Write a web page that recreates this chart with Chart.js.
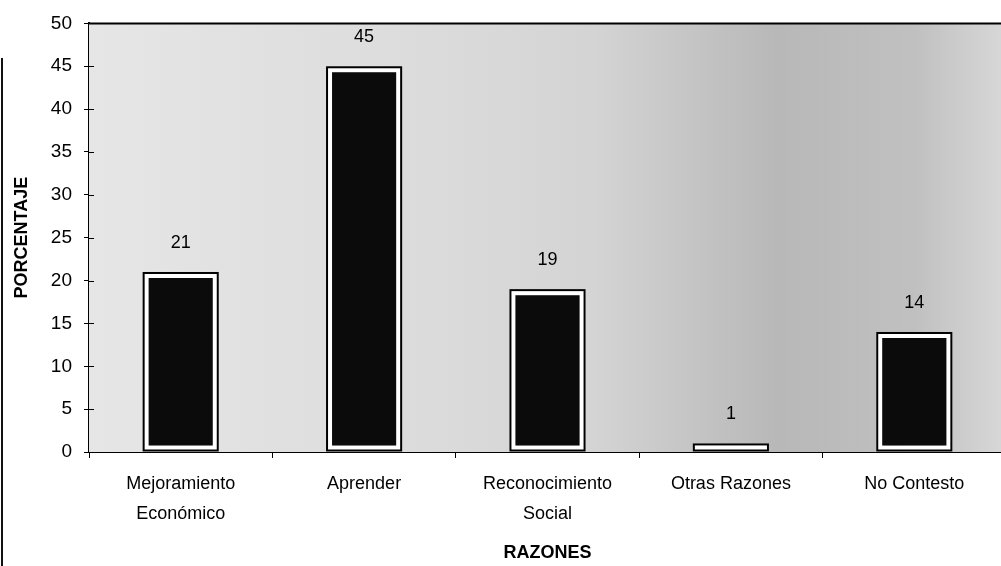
<!DOCTYPE html>
<html>
<head>
<meta charset="utf-8">
<script src="https://cdn.jsdelivr.net/npm/chart.js@4"></script>
<style>
html,body{margin:0;padding:0;background:#fff;overflow:hidden;}
#wrap{width:1001px;height:566px;overflow:hidden;}
</style>
</head>
<body>
<div id="wrap"><canvas id="chart" width="1006" height="566"></canvas></div>
<script>
// data
const razones = [['Mejoramiento','Económico'],'Aprender',['Reconocimiento','Social'],'Otras Razones','No Contesto'];
const porcentaje = [21,45,19,1,14];
const yTitle = 'PORCENTAJE';
const xTitle = 'RAZONES';

const FONT = 'Arial, "Liberation Sans", sans-serif';

// greyish scan background behind the bars
const bgPlugin = {
id:'bg',
beforeDatasetsDraw(chart){
const {ctx, chartArea:a} = chart;
const g = ctx.createLinearGradient(a.left,0,a.right,0);
g.addColorStop(0,'#e6e6e6');
g.addColorStop(0.35,'#dcdcdc');
g.addColorStop(0.55,'#d4d4d4');
g.addColorStop(0.75,'#b8b8b8');
g.addColorStop(0.9,'#c0c0c0');
g.addColorStop(1,'#d8d8d8');
ctx.save();
ctx.fillStyle = g;
ctx.fillRect(a.left,a.top,a.right-a.left,a.bottom-a.top);
ctx.restore();
},
afterDraw(chart){
// scanned page edge on the left
const ctx = chart.ctx;
ctx.save();
ctx.strokeStyle='#111';
ctx.lineWidth=2;
ctx.beginPath();
ctx.moveTo(2,58);
ctx.lineTo(2,566);
ctx.stroke();
ctx.restore();
}
};

// outer black frame, value labels, top line and inner half of y ticks
const decoPlugin = {
id:'deco',
afterDatasetsDraw(chart){
const {ctx, chartArea:a} = chart;
const meta = chart.getDatasetMeta(0);
ctx.save();
ctx.strokeStyle='#000';
ctx.lineWidth=2;
meta.data.forEach((bar,i)=>{
const w = bar.width;
ctx.strokeRect(bar.x-w/2+1, bar.y+1, w-2, bar.base-bar.y-2);
});
ctx.fillStyle='#000';
ctx.font='18px '+FONT;
ctx.textAlign='center';
ctx.textBaseline='middle';
meta.data.forEach((bar,i)=>{
ctx.fillText(String(porcentaje[i]), bar.x, bar.y-29);
});
ctx.lineWidth=2;
ctx.beginPath();
ctx.moveTo(a.left,a.top);
ctx.lineTo(a.right,a.top);
ctx.stroke();
const ys = chart.scales.y;
ctx.lineWidth=1;
ys.ticks.forEach(t=>{
const py = Math.round(ys.getPixelForValue(t.value))+0.5;
ctx.beginPath();
ctx.moveTo(a.left,py);
ctx.lineTo(a.left+5,py);
ctx.stroke();
});
ctx.restore();
}
};

new Chart(document.getElementById('chart'),{
type:'bar',
data:{
labels:razones,
datasets:[{
data:porcentaje,
backgroundColor:'#0b0b0b',
borderColor:'#ffffff',
borderWidth:6,
borderSkipped:false,
barPercentage:0.415,
categoryPercentage:1
}]
},
options:{
responsive:false,
animation:false,
layout:{padding:{top:20,right:0,left:0,bottom:0}},
plugins:{legend:{display:false},tooltip:{enabled:false}},
scales:{
x:{
afterFit(s){ s.height = 114; },
grid:{display:true,offset:true,drawOnChartArea:false,tickLength:6,color:'#000'},
border:{display:true,color:'#000',width:2},
ticks:{color:'#000',font:{family:FONT,size:18,lineHeight:1.65},padding:11,maxRotation:0},
title:{display:true,text:xTitle,color:'#000',font:{family:FONT,size:18,weight:'bold'},padding:{top:0,bottom:2}}
},
y:{
min:0,max:50,
afterFit(s){ s.width = 89; },
grid:{display:true,drawOnChartArea:false,tickLength:5,color:'#000'},
border:{display:true,color:'#000',width:2},
ticks:{stepSize:5,color:'#000',font:{family:FONT,size:19},padding:12},
title:{display:true,text:yTitle,color:'#000',font:{family:FONT,size:18,weight:'bold'},padding:{top:11,bottom:0}}
}
}
},
plugins:[bgPlugin,decoPlugin]
});
</script>
</body>
</html>
